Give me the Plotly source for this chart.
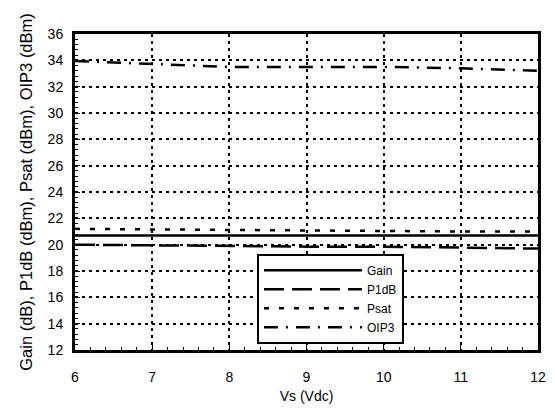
import plotly.graph_objects as go

vs = [6, 7, 8, 9, 10, 11, 12]
gain = [20.7, 20.7, 20.7, 20.7, 20.7, 20.7, 20.7]
p1db = [20.0, 19.95, 19.85, 19.85, 19.85, 19.8, 19.7]
psat = [21.2, 21.15, 21.1, 21.1, 21.05, 21.0, 21.0]
oip3 = [33.95, 33.7, 33.5, 33.5, 33.5, 33.4, 33.2]

FONT = "Liberation Sans, Arial"

fig = go.Figure()
fig.add_trace(go.Scatter(x=vs, y=gain, name="Gain", mode="lines",
                         line=dict(color="black", width=2.5)))
fig.add_trace(go.Scatter(x=vs, y=p1db, name="P1dB", mode="lines",
                         line=dict(color="black", width=2.5, dash="20px,8px")))
fig.add_trace(go.Scatter(x=vs, y=psat, name="Psat", mode="lines",
                         line=dict(color="black", width=2.5, dash="5px,10px")))
fig.add_trace(go.Scatter(x=vs, y=oip3, name="OIP3", mode="lines",
                         line=dict(color="black", width=2.5, dash="14px,8px,2px,8px")))

axis_common = dict(
    showline=True, linecolor="black", linewidth=3, mirror=True,
    ticks="inside", ticklen=5, tickwidth=1, tickcolor="black",
    showgrid=True, gridcolor="black", gridwidth=1.5, griddash="3px,4px",
    zeroline=False, automargin=False,
    tickfont=dict(family=FONT, size=14, color="black"),
)

fig.update_xaxes(range=[6, 12], dtick=1, tick0=6, ticklabelstandoff=12,
                 title=dict(text="Vs (Vdc)", font=dict(family=FONT, size=14, color="black"), standoff=8),
                 minor=dict(ticks="inside", ticklen=3, dtick=0.2, tickcolor="black", showgrid=False),
                 **axis_common)
fig.update_yaxes(range=[12, 36], dtick=2, tick0=12, ticklabelstandoff=6,
                 title=dict(text="Gain (dB), P1dB (dBm), Psat (dBm), OIP3 (dBm)", font=dict(family=FONT, size=16.5, color="black"), standoff=11),
                 minor=dict(ticks="inside", ticklen=3, dtick=0.4, tickcolor="black", showgrid=False),
                 **axis_common)

fig.update_layout(
    width=555, height=414,
    margin=dict(l=67, r=25, t=26, b=72),
    paper_bgcolor="white", plot_bgcolor="white",
    showlegend=True,
    legend=dict(x=0.393, y=0.02, xanchor="left", yanchor="bottom",
                bgcolor="white", bordercolor="black", borderwidth=2,
                font=dict(family=FONT, size=12, color="black"),
                itemwidth=98, tracegroupgap=0),
)

fig.write_html("out.html")
